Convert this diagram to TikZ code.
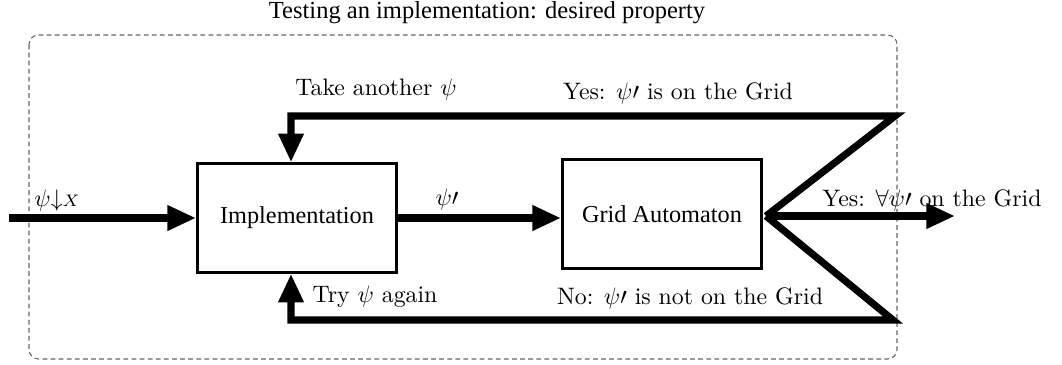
\documentclass[tikz,border=0pt]{standalone}
\usepackage{fontspec}
\newfontfamily\timesfont{Liberation Serif}
\usetikzlibrary{arrows.meta}
\begin{document}
\begin{tikzpicture}[x=0.42pt,y=-0.42pt,
  box/.style={draw, line width=1.3pt, inner sep=0pt, minimum width=83.5pt, minimum height=45.5pt, font=\timesfont\fontsize{10.2}{12}\selectfont},
  flow/.style={line width=3pt, line join=miter, -{Triangle[length=12pt,width=10pt]}},
  lbl/.style={inner sep=0pt, font=\fontsize{10}{12}\selectfont},
  frame/.style={draw=black!60, line width=0.45pt, dash pattern=on 2pt off 1.4pt, rounded corners=4pt}
]
\useasboundingbox (0,0) rectangle (1062,364);
\draw[frame] (29,35) rectangle (897,359);
\node[inner sep=0pt, font=\timesfont\fontsize{10.3}{12}\selectfont] (title) at (487,13) {Testing an implementation: desired property};

\node[box] (impl) at (297,218) {Implementation};
\node[box] (grid) at (662,214) {Grid Automaton};

\coordinate (in) at (9,218);
\coordinate (j) at (766,216);
\coordinate (tr) at (895,116);
\coordinate (tl) at (291,116);
\coordinate (br) at (893,320);
\coordinate (bl) at (291,320);
\coordinate (out) at (955,216);

\draw[flow] (in) -- (impl.west);
\draw[flow] (impl.east) -- (impl.east -| grid.west);
\draw[flow] (j) -- (tr) -- (tl) -- (tl |- impl.north);
\draw[flow] (j) -- (br) -- (bl) -- (bl |- impl.south);
\draw[flow] (j) -- (out);

\node[lbl] (lin) at (57,201) {$\psi{\downarrow}{\scriptstyle X}$};
\node[lbl] (lmid) at (447,200) {$\psi\prime$};
\node[lbl] (ltake) at (376,90) {Take another $\psi$};
\node[lbl] (lyes) at (678,93) {Yes: $\psi\prime$ is on the Grid};
\node[lbl] (lall) at (932,200) {Yes: $\forall\psi\prime$ on the Grid};
\node[lbl] (ltry) at (375,297) {Try $\psi$ again};
\node[lbl] (lno) at (690,298) {No: $\psi\prime$ is not on the Grid};
\end{tikzpicture}
\end{document}
